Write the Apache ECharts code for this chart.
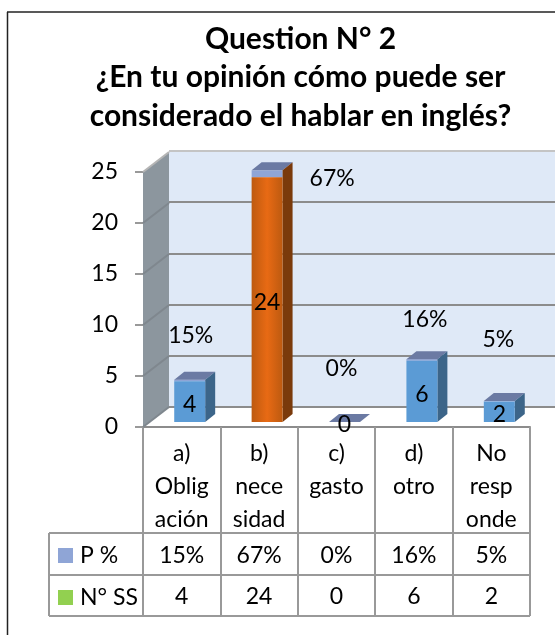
<!DOCTYPE html>
<html>
<head>
<meta charset="utf-8">
<style>html,body{margin:0;padding:0;background:#fff}#main_chart{width:555px;height:635px}</style>
<script src="https://cdn.jsdelivr.net/npm/echarts@6/dist/echarts.min.js"></script>
</head>
<body>
<div id="main_chart"></div>
<script>
var titleText = 'Question N° 2\n¿En tu opinión cómo puede ser\nconsiderado el hablar en inglés?';
var categories = ['a)\nOblig\nación', 'b)\nnece\nsidad', 'c)\ngasto', 'd)\notro', 'No\nresp\nonde'];
var pctValues = [15, 67, 0, 16, 5];
var ssValues = [4, 24, 0, 6, 2];

// where the % labels sit relative to the top of each bar (placed by hand in the original)
var pctOffsets = [[1, -45], [65, 7], [-3, -54], [3, -41], [-1, -63]];

var FONT = 'Lato, Carlito, sans-serif';
var FS = 23;
var barShift = [8, -5];     // bars stand a little behind the front edge
var depth = [10, -8];       // 3d depth of a bar
var wallDepth = [26, -20];  // 3d depth of the side wall
var orange = {
    type: 'linear', x: 0, y: 0, x2: 1, y2: 0,
    colorStops: [{offset: 0, color: '#bd5a10'}, {offset: 0.5, color: '#e86a14'}, {offset: 1, color: '#bd5a10'}]
};

function txt(str, x, y, size){
    return {type: 'text', z2: 20, style: {text: str, x: x, y: y + 1, textAlign: 'center', textVerticalAlign: 'middle',
        fontFamily: FONT, fontSize: size || FS, fill: '#000'}};
}
function poly(points, fill){
    return {type: 'polygon', shape: {points: points}, style: {fill: fill}};
}

// front + side of the count part, the % part is stacked on it in the other series
var renderSS = function(params, api){
    var i = api.value(0), v = api.value(1);
    var w = api.size([1, 0])[0] * 0.4;
    var b = api.coord([i, 0]), t = api.coord([i, v]), tt = api.coord([i, v + pctValues[i] / 100]);
    var x0 = b[0] + barShift[0] - w / 2, x1 = x0 + w;
    var yb = b[1] + barShift[1], yt = t[1] + barShift[1], ytt = tt[1] + barShift[1];
    var hot = v === Math.max.apply(null, ssValues);
    var kids = [
        poly([[x1, yb], [x1 + depth[0], yb + depth[1]], [x1 + depth[0], ytt + depth[1]], [x1, ytt]], hot ? '#7a3a0b' : '#3c6589'),
        {type: 'rect', shape: {x: x0, y: yt, width: w, height: yb - yt}, style: {fill: hot ? orange : '#5b9bd5'}},
        txt(String(v), x0 + w / 2, (yb + yt) / 2 + 2),
        txt(String(v), b[0], b[1] + 169)
    ];
    return {type: 'group', children: kids};
};

var renderPct = function(params, api){
    var i = api.value(0), v = api.value(1);
    var w = api.size([1, 0])[0] * 0.4;
    var b = api.coord([i, 0]), t = api.coord([i, ssValues[i]]), tt = api.coord([i, ssValues[i] + v / 100]);
    var x0 = b[0] + barShift[0] - w / 2, x1 = x0 + w;
    var yt = t[1] + barShift[1], ytt = tt[1] + barShift[1];
    var off = pctOffsets[i];
    var kids = [
        {type: 'rect', shape: {x: x0, y: ytt, width: w, height: yt - ytt}, style: {fill: '#8fa5d6'}},
        poly([[x0, ytt], [x1, ytt], [x1 + depth[0], ytt + depth[1]], [x0 + depth[0], ytt + depth[1]]], '#6b7aa3'),
        txt(v + '%', x0 + w / 2 + off[0], ytt + off[1]),
        txt(v + '%', b[0], b[1] + 128)
    ];
    return {type: 'group', children: kids};
};

// side wall with its slanted grid lines + outer lines of the data table
var renderFrame = function(params, api){
    var band = api.size([1, 0])[0];
    var left = api.coord([0, 0])[0] - band / 2;
    var right = left + band * categories.length;
    var y0 = api.coord([0, 0])[1], y25 = api.coord([0, 25])[1];
    var dx = wallDepth[0], dy = wallDepth[1];
    var kids = [poly([[left, y25], [left + dx, y25 + dy], [left + dx, y0 + dy], [left, y0]], '#8c969e')];
    [0, 5, 10, 15, 20, 25].forEach(function(t){
        var y = api.coord([0, t])[1];
        kids.push({type: 'line', shape: {x1: left, y1: y, x2: left + dx, y2: y + dy},
            style: {stroke: t === 25 ? '#b5b5b5' : '#7f878e', lineWidth: 2}});
    });
    [106, 148, 189].forEach(function(h){
        kids.push({type: 'line', shape: {x1: 49, y1: y0 + h, x2: right, y2: y0 + h}, style: {stroke: '#999', lineWidth: 2}});
    });
    kids.push({type: 'line', shape: {x1: 49, y1: y0 + 106, x2: 49, y2: y0 + 189}, style: {stroke: '#999', lineWidth: 2}});
    return {type: 'group', children: kids};
};

var chartOpt = {
    animation: false,
    title: {
        text: titleText, left: 295.5, top: 15, textAlign: 'center',
        textStyle: {fontFamily: FONT, fontSize: 30, fontWeight: 'bold', color: '#000', lineHeight: 38.5}
    },
    legend: {
        data: ['P %', 'N° SS'], orient: 'vertical', left: 58, top: 544, selectedMode: false, padding: 0,
        icon: 'rect', itemWidth: 15, itemHeight: 15, itemGap: 19,
        textStyle: {fontFamily: FONT, fontSize: FS, color: '#000', lineHeight: 22, padding: [0, 0, 0, 2]}
    },
    grid: [
        {left: 143, top: 172, width: 387, height: 255},
        {left: 169, top: 151, width: 386, height: 256, show: true, backgroundColor: '#dfe9f7', borderWidth: 0}
    ],
    xAxis: [
        {
            type: 'category', gridIndex: 0, data: categories,
            axisLine: {lineStyle: {color: '#8c8c8c', width: 2}},
            axisTick: {show: true, length: 189, lineStyle: {color: '#999', width: 2}},
            axisLabel: {interval: 0, margin: 10, lineHeight: 33, verticalAlign: 'top', fontFamily: FONT, fontSize: FS, color: '#000'}
        },
        {type: 'category', gridIndex: 1, data: categories, show: false}
    ],
    yAxis: [
        {
            type: 'value', gridIndex: 0, min: 0, max: 25, interval: 5,
            splitLine: {show: false},
            axisLine: {show: false},
            axisTick: {show: true, length: 8, lineStyle: {color: '#999', width: 2}},
            axisLabel: {margin: 25, padding: [3, 0, 0, 0], fontFamily: FONT, fontSize: FS, color: '#000'}
        },
        {
            type: 'value', gridIndex: 1, min: 0, max: 25, interval: 5,
            axisLine: {show: false}, axisTick: {show: false}, axisLabel: {show: false},
            splitLine: {show: true, lineStyle: {width: 2,
                color: ['#8c8c8c', '#8c8c8c', '#8c8c8c', '#8c8c8c', '#8c8c8c', '#c4c4c4']}}
        }
    ],
    series: [
        {type: 'custom', name: 'frame', xAxisIndex: 0, yAxisIndex: 0, z: 1, data: [[0, 0]], renderItem: renderFrame},
        {type: 'custom', name: 'N° SS', xAxisIndex: 0, yAxisIndex: 0, z: 5, itemStyle: {color: '#92d050'},
            data: ssValues.map(function(v, i){ return [i, v]; }), renderItem: renderSS},
        {type: 'custom', name: 'P %', xAxisIndex: 0, yAxisIndex: 0, z: 4, itemStyle: {color: '#8fa5d6'},
            data: pctValues.map(function(v, i){ return [i, v]; }), renderItem: renderPct}
    ],
    // frame of the picture, top and left only are visible
    graphic: [
        {type: 'line', z: 100, shape: {x1: 7, y1: 12, x2: 555, y2: 12}, style: {stroke: '#222', lineWidth: 1.5}},
        {type: 'line', z: 100, shape: {x1: 7.5, y1: 12, x2: 7.5, y2: 635}, style: {stroke: '#222', lineWidth: 1.5}}
    ]
};

var main_chart = echarts.init(document.getElementById('main_chart'));
main_chart.setOption(chartOpt);
</script>
</body>
</html>
